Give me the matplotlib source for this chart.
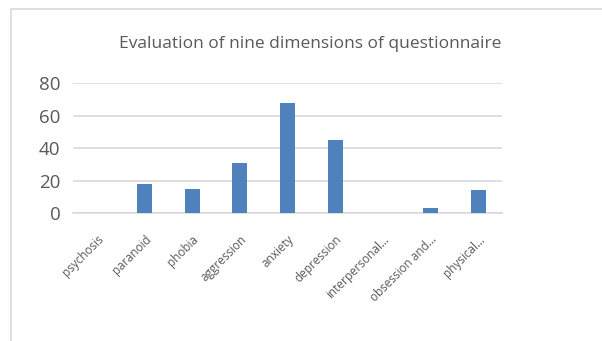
import matplotlib.pyplot as plt
from matplotlib.patches import Rectangle

# dimensions and scores
dimensions = ["psychosis", "paranoid", "phobia", "aggression", "anxiety",
              "depression", "interpersonal…", "obsession and…", "physical…"]
scores = [0, 18, 15, 31, 68, 45, 0.4, 3, 14]
y_ticks = [0, 20, 40, 60, 80]

bar_color = "#4F81BD"
grid_color = "#D9D9D9"
text_color = "#595959"

plt.rcParams['font.family'] = ['Open Sans', 'DejaVu Sans']

fig = plt.figure(figsize=(6.02, 3.41), dpi=100)
W, H = 602, 341

# chart frame (cut off on the right and bottom)
fig.patches.append(Rectangle((10.5 / W, -0.1), 1.0, 1 - 8.5 / H + 0.1,
                             transform=fig.transFigure, fill=False,
                             edgecolor=grid_color, linewidth=1.2))

ax = fig.add_axes([73 / W, 1 - 213.3 / H, (502 - 73) / W, (213.3 - 83) / H])
x = range(len(dimensions))
ax.bar(x, scores, width=0.31, color=bar_color, zorder=3)

ax.set_ylim(0, 80)
ax.set_xlim(-0.5, len(dimensions) - 0.5)
ax.set_yticks(y_ticks)
ax.set_yticklabels([str(v) for v in y_ticks], fontsize=13.5, color=text_color)
ax.yaxis.grid(True, color=grid_color, linewidth=1.2, zorder=0)
ax.set_xticks(list(x))
ax.set_xticklabels(dimensions, rotation=45, ha='right', rotation_mode='anchor',
                   fontsize=8.5, color=text_color)
ax.tick_params(axis='x', length=0, pad=14)
ax.tick_params(axis='y', length=0, pad=9)
for s in ['top', 'right', 'left']:
    ax.spines[s].set_visible(False)
ax.spines['bottom'].set_color(grid_color)
ax.spines['bottom'].set_linewidth(1.2)

fig.text(310 / W, 1 - 44 / H, "Evaluation of nine dimensions of questionnaire",
         ha='center', va='center', fontsize=12.5, color=text_color)

fig.savefig("out.png", dpi=100)
